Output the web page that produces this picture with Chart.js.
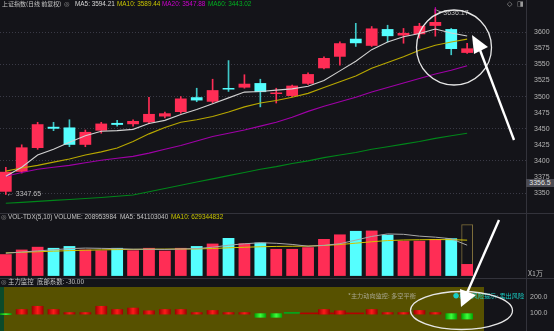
<!DOCTYPE html>
<html>
<head>
<meta charset="utf-8">
<script src="https://cdn.jsdelivr.net/npm/chart.js@4.4.1/dist/chart.umd.min.js"></script>
<style>
  html, body { margin: 0; padding: 0; background: #141419; }
  #wrap { position: relative; width: 554px; height: 331px; overflow: hidden; background: #141419;
          font-family: "Liberation Sans", "Noto Sans CJK SC", sans-serif; }
  canvas { position: absolute; left: 0; }
  .t { position: absolute; white-space: nowrap; font-size: 6.4px; line-height: 8px; color: #c4c4c4; }
  .cjk { font-family: "Noto Sans CJK SC", sans-serif; }
  .sym { font-family: "DejaVu Sans", sans-serif; color: #9a9a9a; }
</style>
</head>
<body>
<div id="wrap">
  <div style="position:absolute;left:0;top:213px;width:554px;height:1px;background:#33333b"></div>
  <div style="position:absolute;left:0;top:278px;width:554px;height:1px;background:#33333b"></div>
  <div style="position:absolute;left:526px;top:0;width:1px;height:331px;background:#33333b"></div>
  <div style="position:absolute;left:4px;top:287px;width:480px;height:44px;background:#575100"></div>
  <div style="position:absolute;left:0;top:287px;width:4px;height:44px;background:#0b4a2a"></div>

  <canvas id="main" width="554" height="213" style="top:0"></canvas>
  <canvas id="vol" width="554" height="65" style="top:213px"></canvas>
  <canvas id="ind" width="554" height="44" style="top:287px"></canvas>

  <!-- price panel header -->
  <div class="t cjk" style="left:2px;top:0;font-size:6px">上证指数(日线 前复权)</div>
  <div class="t sym" style="left:64px;top:0">◎</div>
  <div class="t" style="left:75px;top:0;color:#d6d6d6">MA5: 3594.21</div>
  <div class="t" style="left:117px;top:0;color:#c8c400">MA10: 3589.44</div>
  <div class="t" style="left:162px;top:0;color:#cc00cc">MA20: 3547.88</div>
  <div class="t" style="left:208px;top:0;color:#00b020">MA60: 3443.02</div>
  <div class="t sym" style="left:507px;top:0;font-size:7px">◇</div>
  <div class="t sym" style="left:517px;top:0;font-size:7px">◨</div>
  <div class="t" style="left:526px;top:179px;width:28px;height:8px;background:#4a4a52;color:#e6e6e6;font-size:7px;text-align:center">3356.5</div>

  <!-- volume panel header -->
  <div class="t sym" style="left:1px;top:213px">◎</div>
  <div class="t" style="left:8px;top:213px">VOL-TDX(5,10)</div>
  <div class="t" style="left:54px;top:213px">VOLUME: 208953984</div>
  <div class="t" style="left:120px;top:213px">MA5: 541103040</div>
  <div class="t" style="left:171px;top:213px;color:#c8c400">MA10: 629344832</div>
  <div class="t cjk" style="left:528px;top:269px;font-size:7px;color:#b8b8b8">X1万</div>

  <!-- indicator panel header -->
  <div class="t sym" style="left:1px;top:278px">◎</div>
  <div class="t cjk" style="left:8px;top:278px">主力监控</div>
  <div class="t cjk" style="left:37px;top:278px">底部系数: -30.00</div>
  <div class="t cjk" style="left:348px;top:292px;color:#a8a690;font-size:6.2px">*主力动向监控: 多空平衡</div>
  <div class="t cjk" style="left:453px;top:292px;color:#19cfc6;font-size:6.2px">●机构风险提示: 卖出风险</div>

  <svg width="554" height="331" style="position:absolute;left:0;top:0">
    <ellipse cx="454" cy="47.5" rx="37.5" ry="37.5" fill="none" stroke="#e6e6e6" stroke-width="1.3"/>
    <line x1="514" y1="140" x2="480" y2="50" stroke="#ffffff" stroke-width="2.4"/>
    <polygon points="472,35 474,54 488,47" fill="#ffffff"/>
    <ellipse cx="461.5" cy="310.5" rx="51" ry="19" fill="none" stroke="#e6e6e6" stroke-width="1.3"/>
    <line x1="499" y1="220" x2="467" y2="293" stroke="#ffffff" stroke-width="2.4"/>
    <polygon points="461,307 460,289 476,295" fill="#ffffff"/>
  </svg>
</div>

<script>
// trading days (index of the candle)
const dayIndex = [0,1,2,3,4,5,6,7,8,9,10,11,12,13,14,15,16,17,18,19,20,21,22,23,24,25,26,27,28,29];

// daily prices
const open  = [3352,3383,3420,3453,3452,3425,3447,3459,3457,3460,3469,3476,3499,3492,3512,3514,3521,3504,3501,3520,3544,3562,3590,3579,3605,3595,3597,3610,3605,3568];
const close = [3383,3421,3457,3450,3425,3445,3458,3456,3462,3473,3474,3497,3494,3510,3511,3520,3507,3506,3517,3535,3560,3583,3583,3606,3594,3599,3610,3616,3574,3575];
const high  = [3390,3425,3460,3460,3464,3448,3460,3463,3464,3499,3476,3500,3513,3527,3556,3534,3527,3513,3518,3537,3562,3585,3614,3609,3611,3606,3614,3636.17,3606,3583];
const low   = [3347.65,3381,3418,3447,3422,3422,3443,3454,3454,3458,3467,3474,3492,3490,3508,3513,3484,3490,3500,3519,3543,3549,3578,3578,3585,3583,3591,3594,3565,3567];

// moving averages
const ma5  = [3376,3390,3409,3418,3429,3439,3446,3447,3449,3458,3463,3472,3480,3489,3498,3507,3508,3510,3512,3516,3525,3540,3555,3573,3585,3593,3598,3605,3599,3594.21];
const ma10 = [3384,3389,3393,3398,3403,3409,3414,3420,3430,3442,3452,3460,3464,3469,3476,3484,3490,3494,3499,3505,3514,3523,3532,3544,3553,3562,3572,3580,3585,3589.44];
const ma20 = [3376,3382,3387,3390,3393,3397,3401,3404,3407,3412,3418,3424,3431,3438,3443,3448,3454,3460,3468,3477,3485,3492,3499,3507,3514,3521,3528,3535,3541,3547.88];
const ma60 = [3334,3335.5,3337,3338.5,3340,3341.5,3343,3345,3347,3352,3357,3362,3367,3372,3377,3382,3387,3391,3396,3400,3405,3409,3413,3418,3422,3426,3430,3435,3439,3443.02];

// volume, in units of 10k (X1万)
const volume = [38200,46300,51200,49300,52500,46300,45000,49300,45000,49300,44400,49300,52500,56900,66700,57400,58600,47500,47500,50500,65000,73000,79200,79800,72400,61800,61800,65000,66200,20895];
const volMa5  = [40000,42000,44000,46000,48000,49000,48500,48000,47000,47000,46600,47400,48000,50500,54000,56500,58400,57400,55400,52300,53800,56700,63000,69500,73900,73200,70000,68200,65400,54110];
const volMa10 = [40500,41500,42500,43500,44500,45200,45800,46300,46700,47000,47200,47300,47500,48200,49500,50400,51300,51900,52200,52500,53500,55200,57600,60100,62200,63200,63600,64000,63800,62934];
const volForecastDay = [29];
const volForecast = [91000];

// main force indicator (null = no bar that day)
const mainForce = [88,124,144,124,105,105,144,124,133,116,124,124,105,118,105,105,71,71,null,null,124,116,null,124,105,105,118,105,60,60];
const flatDays  = [18,19,20,21,22];
const flatLevel = [98,95,95,95,95];

// axis labels
const priceTicks = [3350,3375,3400,3425,3450,3475,3500,3525,3550,3575,3600];
const volTicks = [25000,50000,75000];
const indTicks = [100,200];

const UP = '#ff2d55', DOWN = '#55ffff';
const isUp = i => close[i] >= open[i];

const X_MIN = -0.365, X_MAX = 32.7;
const xAxis = { type: 'linear', min: X_MIN, max: X_MAX, display: false, offset: false };
const tickFont = { family: 'Liberation Sans', size: 7 };

function rightAxis(min, max, step, pad, labels, fmt, gridColor) {
  return {
    position: 'right', min: min, max: max,
    // fixed axis width and no extra room for the end labels, so the panels line up
    afterFit: s => { s.width = 28; s.paddingTop = 0; s.paddingBottom = 0; },
    ticks: { stepSize: step, includeBounds: false, padding: pad, color: '#b4b4b4', font: tickFont,
             callback: v => labels.includes(v) ? fmt(v) : null },
    grid: { drawTicks: false, color: gridColor || 'transparent', lineWidth: 1 },
    border: { display: false, dash: [1, 2] }
  };
}

const baseOpts = {
  responsive: false, animation: false, devicePixelRatio: 1,
  layout: { padding: 0 },
  plugins: { legend: { display: false }, tooltip: { enabled: false } }
};

const pts = arr => arr.map((v, i) => ({ x: dayIndex[i], y: v }));
const lineSet = (data, color, w) => ({ type: 'line', data: pts(data), borderColor: color, borderWidth: w || 1,
  pointRadius: 0, tension: 0, order: 0 });

// labels for highest high and lowest low
const extremeLabels = {
  id: 'extremeLabels',
  afterDatasetsDraw(chart) {
    const { ctx, scales: { x, y } } = chart;
    const hi = high.indexOf(Math.max(...high));
    const lo = low.indexOf(Math.min(...low));
    ctx.save();
    ctx.font = '7px "Liberation Sans", "DejaVu Sans"';
    ctx.textBaseline = 'middle';
    ctx.fillStyle = '#bdbdbd';
    const hx = x.getPixelForValue(hi), hy = y.getPixelForValue(high[hi]);
    ctx.strokeStyle = '#c000c0';
    ctx.beginPath(); ctx.moveTo(hx, hy - 2); ctx.lineTo(hx, hy + 4); ctx.stroke();
    ctx.strokeStyle = '#9a9a9a';
    ctx.beginPath(); ctx.moveTo(hx + 1, hy + 1); ctx.lineTo(hx + 7, hy + 3.5); ctx.stroke();
    ctx.fillText(high[hi].toFixed(2), hx + 8, hy + 4);
    const lx = x.getPixelForValue(lo), ly = y.getPixelForValue(low[lo]);
    ctx.fillText('← ' + low[lo].toFixed(2), lx + 1, ly);
    ctx.restore();
  }
};

new Chart(document.getElementById('main'), {
  type: 'bar',
  data: {
    datasets: [
      lineSet(ma5, '#d2d2d2', 1.1),
      lineSet(ma10, '#b8a800', 1.1),
      lineSet(ma20, '#a000a8', 1.1),
      lineSet(ma60, '#00861a', 1.1),
      { type: 'bar', data: dayIndex.map(i => ({ x: i, y: [open[i], close[i]] })),
        backgroundColor: dayIndex.map(i => isUp(i) ? UP : DOWN),
        grouped: false, categoryPercentage: 1, barPercentage: 0.74, minBarLength: 1.5, order: 1 },
      { type: 'bar', data: dayIndex.map(i => ({ x: i, y: [low[i], high[i]] })),
        backgroundColor: dayIndex.map(i => isUp(i) ? UP : '#3fc8c8'),
        grouped: false, barThickness: 1, order: 2 }
    ]
  },
  options: Object.assign({}, baseOpts, {
    scales: {
      x: xAxis,
      y: rightAxis(3318.9, 3650.25, 25, 8, priceTicks, v => String(v),
        c => (c.tick && c.tick.value % 50 === 0) ? '#3a3a46' : 'transparent')
    }
  }),
  plugins: [extremeLabels]
});

new Chart(document.getElementById('vol'), {
  type: 'bar',
  data: {
    datasets: [
      lineSet(volMa5, '#a8a8a8', 1),
      lineSet(volMa10, '#d4c400', 1),
      { type: 'bar', data: dayIndex.map(i => ({ x: i, y: volume[i] })),
        backgroundColor: dayIndex.map(i => isUp(i) ? UP : DOWN),
        grouped: false, categoryPercentage: 1, barPercentage: 0.74, order: 1 },
      { type: 'bar', data: volForecastDay.map((d, k) => ({ x: d, y: volForecast[k] })),
        backgroundColor: 'transparent', borderColor: '#7d6d3a', borderWidth: 1,
        grouped: false, categoryPercentage: 1, barPercentage: 0.74, order: 2 }
    ]
  },
  options: Object.assign({}, baseOpts, {
    scales: { x: xAxis, y: rightAxis(-3700, 110740, 25000, 5, volTicks, v => String(v)) }
  })
});

// cylinder-like shading across each indicator bar
function cylinder(dark, light) {
  return c => {
    const xs = c.chart.scales && c.chart.scales.x;
    if (!c.raw || !xs) return light;
    const px = xs.getPixelForValue(c.raw.x);
    if (!Number.isFinite(px)) return light;
    const g = c.chart.ctx.createLinearGradient(px - 6, 0, px + 6, 0);
    g.addColorStop(0, dark); g.addColorStop(0.5, light); g.addColorStop(1, dark);
    return g;
  };
}

const redBars = [], greenBars = [];
mainForce.forEach((v, i) => {
  if (v == null) return;
  if (v >= 100) redBars.push({ x: dayIndex[i], y: [91, v] });
  else greenBars.push({ x: dayIndex[i], y: [v, 98] });
});

const indChart = new Chart(document.getElementById('ind'), {
  type: 'bar',
  data: {
    datasets: [
      { data: flatDays.map((d, k) => ({ x: d, y: [flatLevel[k] - 0.5, flatLevel[k] + 0.5] })),
        backgroundColor: flatLevel.map(v => v > 96 ? '#00a81c' : '#b40000'),
        grouped: false, categoryPercentage: 1, barPercentage: 1, minBarLength: 1, order: 2 },
      { data: redBars, backgroundColor: cylinder('#9a0000', '#ff1a1a'),
        grouped: false, categoryPercentage: 1, barPercentage: 0.74, order: 1 },
      { data: greenBars, backgroundColor: cylinder('#00a000', '#3cff3c'),
        grouped: false, categoryPercentage: 1, barPercentage: 0.74, order: 1 }
    ]
  },
  options: Object.assign({}, baseOpts, {
    scales: { x: xAxis, y: rightAxis(-12.5, 262.5, 100, 4, indTicks, v => v.toFixed(1)) }
  })
});
indChart.update();
</script>
</body>
</html>
